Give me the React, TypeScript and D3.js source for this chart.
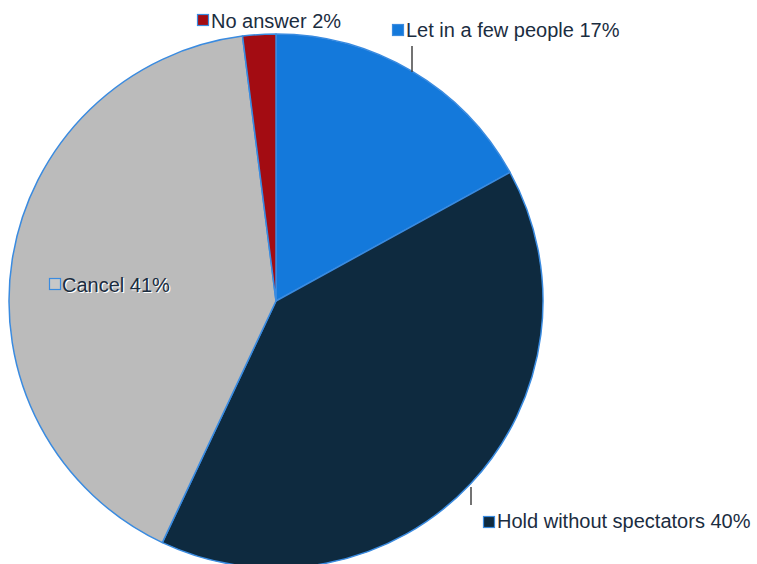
import React from "react";
import * as d3 from "d3";

const categories = ["Let in a few people", "Hold without spectators", "Cancel", "No answer"];
const values = [17, 40, 41, 2];
const colors = ["#1479DB", "#0E2A3F", "#BBBBBB", "#A30C12"];
const markerFills = ["#1479DB", "#0E2A3F", "#C8C8C8", "#A30C12"];

// label placement (layout only)
const labelPos = [
  { mx: 392, my: 24, tx: 406, ty: 37, leader: [412, 46, 412, 72] },
  { mx: 483, my: 516, tx: 497, ty: 528, leader: [471, 487, 471, 505] },
  { mx: 49, my: 278, tx: 62, ty: 292, leader: null },
  { mx: 197, my: 14, tx: 211, ty: 28, leader: null },
];

export default function App() {
  const width = 757;
  const height = 564;
  const cx = 276;
  const cy = 301;
  const r = 267;

  const pie = d3.pie<number>().sort(null).value((d) => d);
  const arcs = pie(values);
  const arc = d3.arc<d3.PieArcDatum<number>>().innerRadius(0).outerRadius(r);

  return (
    <svg
      width={width}
      height={height}
      style={{ position: "absolute", left: 0, top: 0, background: "#fff" }}
      fontFamily="'Liberation Sans', Arial, sans-serif"
    >
      <g transform={`translate(${cx},${cy})`}>
        {arcs.map((a, i) => (
          <path key={i} d={arc(a) || ""} fill={colors[i]} stroke="#3A8BE0" strokeWidth={1.5} strokeLinejoin="round" />
        ))}
      </g>
      {labelPos.map((p, i) => (
        <g key={i}>
          {p.leader && (
            <line x1={p.leader[0]} y1={p.leader[1]} x2={p.leader[2]} y2={p.leader[3]} stroke="#444" strokeWidth={1.5} />
          )}
          <rect x={p.mx + 0.5} y={p.my + 0.5} width={11} height={11} fill={markerFills[i]} stroke="#3A8BE0" strokeWidth={1.2} />
          {i === 2 && (
            <text x={p.tx + 1.2} y={p.ty + 1.2} fontSize={20} fill="#ffffff">
              {`${categories[i]} ${values[i]}%`}
            </text>
          )}
          <text x={p.tx} y={p.ty} fontSize={20} fill="#1B2D3F">
            {`${categories[i]} ${values[i]}%`}
          </text>
        </g>
      ))}
    </svg>
  );
}
